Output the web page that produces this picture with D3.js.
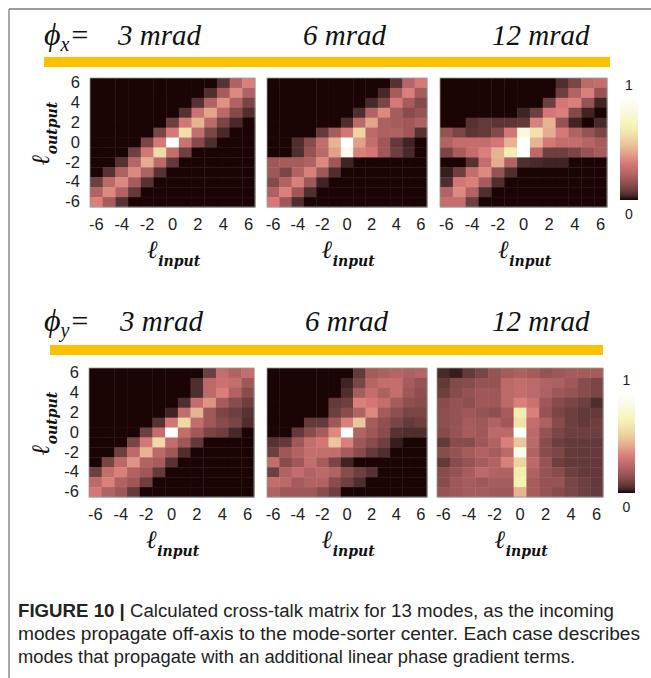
<!DOCTYPE html>
<html>
<head>
<meta charset="utf-8">
<script src="https://cdn.jsdelivr.net/npm/d3@7"></script>
<style>
  body { margin: 0; background: #fff; }
</style>
</head>
<body>
<svg id="canvas" width="651" height="678"></svg>
<script>
let ellInput = [-6, -5, -4, -3, -2, -1, 0, 1, 2, 3, 4, 5, 6]
let ellOutput = [6, 5, 4, 3, 2, 1, 0, -1, -2, -3, -4, -5, -6]
let tickLabels = [-6, -4, -2, 0, 2, 4, 6]
let phaseLabels = ['3 mrad', '6 mrad', '12 mrad']
let captionBold = 'FIGURE 10 | '
let captionLines = [
    'Calculated cross-talk matrix for 13 modes, as the incoming',
    'modes propagate off-axis to the mode-sorter center. Each case describes',
    'modes that propagate with an additional linear phase gradient terms.'
]

// cross-talk in % of max, rows = l output 6 .. -6, columns = l input -6 .. 6
let phiX3 = [
    [0, 0, 0, 0, 0, 0, 0, 0, 0, 0, 6, 25, 38],
    [0, 0, 0, 0, 0, 0, 0, 0, 0, 5, 22, 40, 25],
    [0, 0, 0, 0, 0, 0, 0, 0, 6, 25, 42, 25, 12],
    [0, 0, 0, 0, 0, 0, 0, 6, 32, 46, 28, 14, 5],
    [0, 0, 0, 0, 0, 0, 10, 35, 50, 28, 12, 4, 0],
    [0, 0, 0, 0, 0, 12, 36, 64, 30, 12, 4, 0, 0],
    [0, 0, 0, 0, 12, 36, 100, 32, 14, 5, 0, 0, 0],
    [0, 0, 0, 10, 35, 62, 30, 10, 0, 0, 0, 0, 0],
    [0, 0, 6, 26, 48, 28, 8, 0, 0, 0, 0, 0, 0],
    [0, 6, 24, 40, 24, 6, 0, 0, 0, 0, 0, 0, 0],
    [10, 28, 40, 22, 6, 0, 0, 0, 0, 0, 0, 0, 0],
    [25, 40, 25, 8, 0, 0, 0, 0, 0, 0, 0, 0, 0],
    [38, 22, 6, 0, 0, 0, 0, 0, 0, 0, 0, 0, 0]
]
let phiX6 = [
    [0, 0, 0, 0, 0, 0, 0, 0, 0, 0, 6, 26, 36],
    [0, 0, 0, 0, 0, 0, 0, 0, 0, 4, 22, 38, 22],
    [0, 0, 0, 0, 0, 0, 0, 0, 4, 12, 36, 22, 14],
    [0, 0, 0, 0, 0, 0, 0, 5, 25, 40, 22, 15, 18],
    [0, 0, 0, 0, 0, 0, 5, 28, 46, 24, 22, 20, 24],
    [0, 0, 0, 0, 8, 22, 35, 60, 28, 24, 24, 20, 6],
    [0, 0, 5, 15, 30, 50, 100, 45, 30, 20, 8, 3, 0],
    [0, 0, 5, 18, 28, 45, 90, 38, 35, 20, 10, 4, 0],
    [20, 22, 22, 25, 40, 20, 3, 0, 0, 0, 0, 0, 0],
    [20, 12, 25, 38, 20, 5, 0, 0, 0, 0, 0, 0, 0],
    [14, 25, 38, 20, 3, 0, 0, 0, 0, 0, 0, 0, 0],
    [24, 38, 20, 5, 0, 0, 0, 0, 0, 0, 0, 0, 0],
    [36, 20, 5, 0, 0, 0, 0, 0, 0, 0, 0, 0, 0]
]
let phiX12 = [
    [0, 0, 0, 0, 0, 0, 0, 0, 0, 5, 12, 28, 30],
    [0, 0, 0, 0, 0, 0, 0, 0, 0, 10, 25, 38, 18],
    [0, 0, 0, 0, 0, 0, 0, 0, 10, 35, 38, 18, 3],
    [0, 0, 0, 0, 0, 0, 3, 10, 35, 38, 14, 3, 0],
    [0, 0, 6, 8, 7, 7, 8, 38, 50, 18, 3, 0, 4],
    [18, 12, 7, 8, 14, 35, 85, 65, 48, 36, 25, 18, 12],
    [25, 30, 30, 30, 35, 50, 100, 50, 36, 30, 30, 26, 22],
    [12, 22, 30, 38, 50, 70, 100, 28, 10, 10, 12, 18, 22],
    [0, 0, 6, 30, 48, 25, 5, 4, 3, 3, 0, 0, 0],
    [2, 10, 30, 40, 18, 5, 0, 0, 0, 0, 0, 0, 0],
    [5, 35, 38, 22, 5, 0, 0, 0, 0, 0, 0, 0, 0],
    [25, 40, 25, 5, 0, 0, 0, 0, 0, 0, 0, 0, 0],
    [30, 30, 10, 0, 0, 0, 0, 0, 0, 0, 0, 0, 0]
]
let phiY3 = [
    [0, 0, 0, 0, 0, 0, 0, 0, 0, 10, 30, 25, 30],
    [0, 0, 0, 0, 0, 0, 0, 0, 5, 28, 32, 30, 20],
    [0, 0, 0, 0, 0, 0, 0, 0, 5, 28, 38, 25, 15],
    [0, 0, 0, 0, 0, 0, 0, 5, 30, 42, 22, 15, 10],
    [0, 0, 0, 0, 0, 0, 3, 30, 50, 20, 12, 10, 6],
    [0, 0, 0, 0, 0, 6, 35, 62, 30, 20, 15, 12, 5],
    [0, 0, 0, 0, 10, 30, 100, 30, 20, 12, 10, 4, 0],
    [0, 0, 0, 12, 35, 62, 30, 20, 8, 0, 0, 0, 0],
    [0, 0, 10, 28, 50, 28, 20, 5, 0, 0, 0, 0, 0],
    [0, 12, 28, 42, 25, 22, 6, 0, 0, 0, 0, 0, 0],
    [10, 30, 38, 25, 20, 8, 0, 0, 0, 0, 0, 0, 0],
    [28, 38, 25, 20, 10, 0, 0, 0, 0, 0, 0, 0, 0],
    [35, 25, 20, 8, 0, 0, 0, 0, 0, 0, 0, 0, 0]
]
let phiY6 = [
    [0, 0, 0, 0, 0, 0, 0, 8, 22, 24, 26, 24, 26],
    [0, 0, 0, 0, 0, 0, 3, 12, 26, 30, 30, 22, 18],
    [0, 0, 0, 0, 0, 0, 5, 22, 30, 24, 30, 20, 16],
    [0, 0, 0, 0, 0, 8, 10, 38, 35, 30, 22, 16, 15],
    [0, 0, 0, 0, 0, 10, 15, 25, 40, 22, 16, 12, 12],
    [0, 0, 0, 8, 8, 20, 38, 55, 22, 16, 12, 8, 10],
    [0, 0, 8, 15, 22, 40, 100, 25, 20, 15, 6, 5, 5],
    [6, 8, 20, 30, 35, 55, 38, 20, 15, 10, 2, 0, 0],
    [10, 20, 25, 30, 30, 30, 22, 15, 8, 5, 0, 0, 0],
    [30, 15, 20, 30, 22, 12, 3, 0, 0, 0, 0, 0, 0],
    [10, 25, 30, 25, 28, 25, 15, 10, 6, 0, 0, 0, 0],
    [30, 28, 22, 25, 25, 15, 10, 5, 0, 0, 0, 0, 0],
    [25, 20, 20, 20, 15, 10, 0, 0, 0, 0, 0, 0, 0]
]
let phiY12 = [
    [4, 2, 8, 12, 18, 22, 24, 22, 18, 20, 22, 22, 22],
    [8, 14, 15, 18, 18, 28, 30, 28, 25, 24, 20, 15, 12],
    [10, 15, 18, 20, 20, 28, 30, 28, 24, 20, 18, 15, 12],
    [15, 18, 16, 20, 20, 28, 38, 32, 20, 15, 12, 10, 5],
    [16, 18, 20, 18, 16, 22, 70, 38, 18, 12, 10, 8, 8],
    [16, 18, 22, 20, 25, 20, 65, 30, 24, 15, 10, 8, 10],
    [15, 18, 22, 20, 28, 28, 100, 28, 18, 12, 10, 10, 10],
    [8, 15, 15, 20, 25, 38, 55, 28, 15, 10, 8, 8, 8],
    [15, 18, 22, 25, 22, 28, 90, 25, 15, 12, 8, 8, 8],
    [8, 15, 18, 22, 25, 38, 60, 28, 18, 10, 8, 8, 8],
    [15, 18, 22, 28, 25, 25, 70, 25, 18, 15, 10, 8, 8],
    [15, 20, 22, 20, 22, 22, 72, 22, 18, 18, 12, 10, 8],
    [18, 20, 22, 22, 20, 20, 50, 22, 18, 15, 12, 10, 8]
]

let svg = d3.select('#canvas')

// matlab "pink" colormap, saturation pushed up a bit in the middle like the printed figure
let pink = (t) => {
    let i = t * 63
    let hr = Math.min(1, (i + 1) / 24)
    let hg = Math.max(0, Math.min(1, (i + 1 - 24) / 24))
    let hb = Math.max(0, Math.min(1, (i + 1 - 48) / 16))
    let g = i / 63
    let c = d3.hsl(d3.rgb(255 * Math.sqrt((2 * g + hr) / 3), 255 * Math.sqrt((2 * g + hg) / 3), 255 * Math.sqrt((2 * g + hb) / 3)))
    let k = Math.sin(Math.PI * t)
    c.s = Math.min(0.75, c.s * (1 + 0.6 * k))
    c.l = Math.min(1, c.l * (1 + 0.06 * k))
    return c.formatHex()
}

// frame
svg.append('line').attr('x1', 9).attr('y1', 9).attr('x2', 651).attr('y2', 9).attr('stroke', '#7a7a7a').attr('stroke-width', 1.3)
svg.append('line').attr('x1', 9).attr('y1', 9).attr('x2', 9).attr('y2', 678).attr('stroke', '#7a7a7a').attr('stroke-width', 1.3)

let rows = [
    {axis: 'x', titleY: 45, bar: [44, 610, 57], titles: [118, 303, 492], top: 78, bottom: 207,
     panels: [[phiX3, 90, 255], [phiX6, 267, 427], [phiX12, 440, 607]], cbar: [620, 638, 98, 200]},
    {axis: 'y', titleY: 331, bar: [50, 603, 345], titles: [120, 305, 492], top: 368, bottom: 497,
     panels: [[phiY3, 89, 254], [phiY6, 267, 427], [phiY12, 437, 603]], cbar: [618, 635, 393, 493]}
]

let drawEll = (g, sub) => {
    g.append('tspan').attr('font-family', 'DejaVu Serif').attr('font-weight', 'bold')
        .attr('font-style', 'italic').attr('font-size', 25).text('ℓ')
    g.append('tspan').attr('font-family', 'DejaVu Serif').attr('font-weight', 'bold')
        .attr('font-style', 'italic').attr('font-size', 14).attr('dy', 8).text(sub)
}

let grad = svg.append('defs').append('linearGradient').attr('id', 'cbar')
    .attr('x1', 0).attr('y1', 1).attr('x2', 0).attr('y2', 0)
grad.selectAll('stop').data(d3.range(0, 1.0001, 0.05)).enter().append('stop')
    .attr('offset', d => d).attr('stop-color', d => pink(d))

rows.forEach((row) => {
    // title
    let t = svg.append('text').attr('x', 44).attr('y', row.titleY)
        .attr('font-family', 'Liberation Serif').attr('font-style', 'italic').attr('fill', '#111')
    t.append('tspan').attr('font-size', 32).text('ϕ')
    t.append('tspan').attr('font-size', 20).attr('dy', 6).text(row.axis)
    t.append('tspan').attr('font-size', 30).attr('dy', -6).text('=')

    phaseLabels.forEach((label, i) => {
        svg.append('text').attr('x', row.titles[i]).attr('y', row.titleY)
            .attr('font-family', 'Liberation Serif').attr('font-style', 'italic')
            .attr('font-size', 29).attr('fill', '#111').text(label)
    })

    svg.append('rect').attr('x', row.bar[0]).attr('y', row.bar[2])
        .attr('width', row.bar[1] - row.bar[0]).attr('height', 10).attr('fill', '#ffc000')

    row.panels.forEach((p, k) => {
        let xScale = d3.scaleBand().domain(ellInput).range([p[1], p[2]])
        let yScale = d3.scaleBand().domain(ellOutput).range([row.top, row.bottom])

        let cells = []
        p[0].forEach((vals, r) => {
            vals.forEach((v, c) => {
                cells.push({input: ellInput[c], output: ellOutput[r], value: v})
            })
        })

        svg.append('g').selectAll('rect')
            .data(cells)
            .enter()
            .append('rect')
            .attr('x', d => xScale(d.input))
            .attr('y', d => yScale(d.output))
            .attr('width', xScale.bandwidth() + 0.4)
            .attr('height', yScale.bandwidth() + 0.4)
            .attr('fill', d => pink(d.value / 100))

        svg.append('rect').attr('x', p[1]).attr('y', row.top)
            .attr('width', p[2] - p[1]).attr('height', row.bottom - row.top)
            .attr('fill', 'none').attr('stroke', '#9a9a9a').attr('stroke-width', 0.8)

        let xAxis = svg.append('g').attr('transform', 'translate(0,' + row.bottom + ')')
            .call(d3.axisBottom(xScale).tickValues(tickLabels).tickSize(0).tickPadding(11).tickFormat(d => String(d)))
        xAxis.select('.domain').remove()
        xAxis.selectAll('text').attr('font-family', 'Liberation Sans').attr('font-size', 16.5).attr('fill', '#222')

        if (k === 0) {
            let yAxis = svg.append('g').attr('transform', 'translate(' + p[1] + ',0)')
                .call(d3.axisLeft(yScale).tickValues(tickLabels).tickSize(0).tickPadding(10).tickFormat(d => String(d)))
            yAxis.select('.domain').remove()
            yAxis.selectAll('text').attr('font-family', 'Liberation Sans').attr('font-size', 16.5).attr('fill', '#222')

            let yl = svg.append('text').attr('fill', '#111')
                .attr('transform', 'translate(49,' + (row.top + 87) + ') rotate(-90)')
            drawEll(yl, 'output')
        }

        let xl = svg.append('text').attr('fill', '#111')
            .attr('x', (p[1] + p[2]) / 2 - 25).attr('y', row.bottom + 51)
        drawEll(xl, 'input')
    })

    // colorbar
    let cb = row.cbar
    svg.append('rect').attr('x', cb[0]).attr('y', cb[2]).attr('width', cb[1] - cb[0])
        .attr('height', cb[3] - cb[2]).attr('fill', 'url(#cbar)')
    svg.append('text').attr('x', (cb[0] + cb[1]) / 2).attr('y', cb[2] - 8)
        .attr('text-anchor', 'middle').attr('font-family', 'Liberation Sans').attr('font-size', 14)
        .attr('fill', '#222').text('1')
    svg.append('text').attr('x', (cb[0] + cb[1]) / 2).attr('y', cb[3] + 19)
        .attr('text-anchor', 'middle').attr('font-family', 'Liberation Sans').attr('font-size', 14)
        .attr('fill', '#222').text('0')
})

// caption
let captionEnds = [614, 640, 575]
captionLines.forEach((line, i) => {
    let c = svg.append('text').attr('x', 18).attr('y', 617 + i * 23)
        .attr('font-family', 'Liberation Sans Narrow, Liberation Sans').attr('font-size', 18).attr('fill', '#222')
        .attr('textLength', captionEnds[i] - 18).attr('lengthAdjust', 'spacingAndGlyphs')
    if (i === 0) {
        c.append('tspan').attr('font-weight', 'bold').text(captionBold)
    }
    c.append('tspan').text(line)
})
</script>
</body>
</html>
